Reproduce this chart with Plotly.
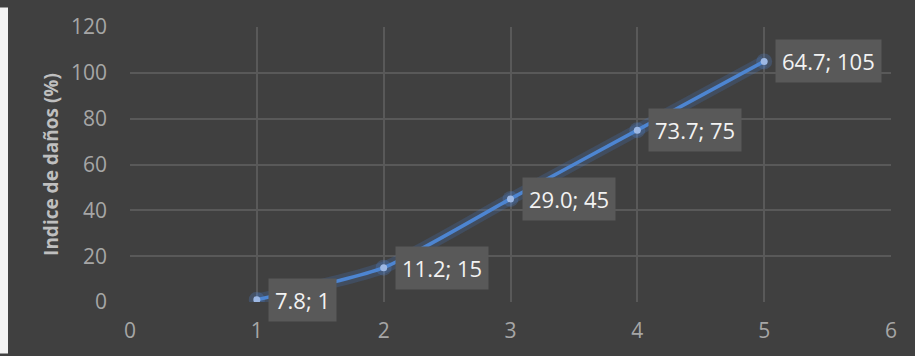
import plotly.graph_objects as go

x_vals = [1, 2, 3, 4, 5]
y_vals = [1, 15, 45, 75, 105]
point_labels = ["7.8", "11.2", "29.0", "73.7", "64.7"]
x_ticks = [0, 1, 2, 3, 4, 5, 6]
y_ticks = [0, 20, 40, 60, 80, 100, 120]

W, H = 915, 356
ML, MR, MT, MB = 130, 24, 20, 53
pw, ph = W - ML - MR, H - MT - MB

fig = go.Figure()
# glow
fig.add_trace(go.Scatter(x=x_vals, y=y_vals, mode="lines",
                         line=dict(color="rgba(70,130,220,0.20)", width=12, shape="spline", smoothing=0.6),
                         hoverinfo="skip", showlegend=False))
fig.add_trace(go.Scatter(x=x_vals, y=y_vals, mode="markers",
                         marker=dict(size=16, color="rgba(80,140,230,0.22)", line=dict(width=0)),
                         hoverinfo="skip", showlegend=False))
fig.add_trace(go.Scatter(x=x_vals, y=y_vals, mode="lines+markers",
                         line=dict(color="#4d85d1", width=3.5, shape="spline", smoothing=0.6),
                         marker=dict(size=7, color="#9db8e4", line=dict(width=0)),
                         showlegend=False))

for xv, yv, lab in zip(x_vals, y_vals, point_labels):
    fig.add_annotation(x=xv, y=yv, text=f"{lab}; {yv}", showarrow=False,
                       xanchor="left", yanchor="middle", xshift=11, yshift=0,
                       bgcolor="#595959", borderpad=6,
                       font=dict(family="Open Sans", size=22, color="#f2f2f2"))

fig.add_shape(type="rect", xref="paper", yref="paper",
              x0=-ML / pw, x1=-(ML - 8) / pw, y0=-MB / ph, y1=1 + MT / ph,
              fillcolor="#f2f2f2", line=dict(width=0), layer="above")

fig.update_layout(
    width=W, height=H,
    margin=dict(l=ML, r=MR, t=MT, b=MB),
    paper_bgcolor="#404040", plot_bgcolor="#404040",
    font=dict(family="Open Sans", color="#a6a6a6", size=21),
    xaxis=dict(range=[0, 6], tickvals=x_ticks, showgrid=True, gridcolor="#595959", gridwidth=1.5,
               zeroline=False, showline=False, ticks="", ticklabelstandoff=14,
               tickfont=dict(size=21, color="#a6a6a6")),
    yaxis=dict(range=[0, 120], tickvals=y_ticks, showgrid=True, gridcolor="#595959", gridwidth=1.5,
               zeroline=False, showline=False, ticks="", ticklabelstandoff=22,
               tickfont=dict(size=21, color="#a6a6a6"),
               title=dict(text="<b>Indice de daños (%)</b>", standoff=7,
                          font=dict(size=19, color="#bfbfbf"))),
)

fig.write_html("out.html")
